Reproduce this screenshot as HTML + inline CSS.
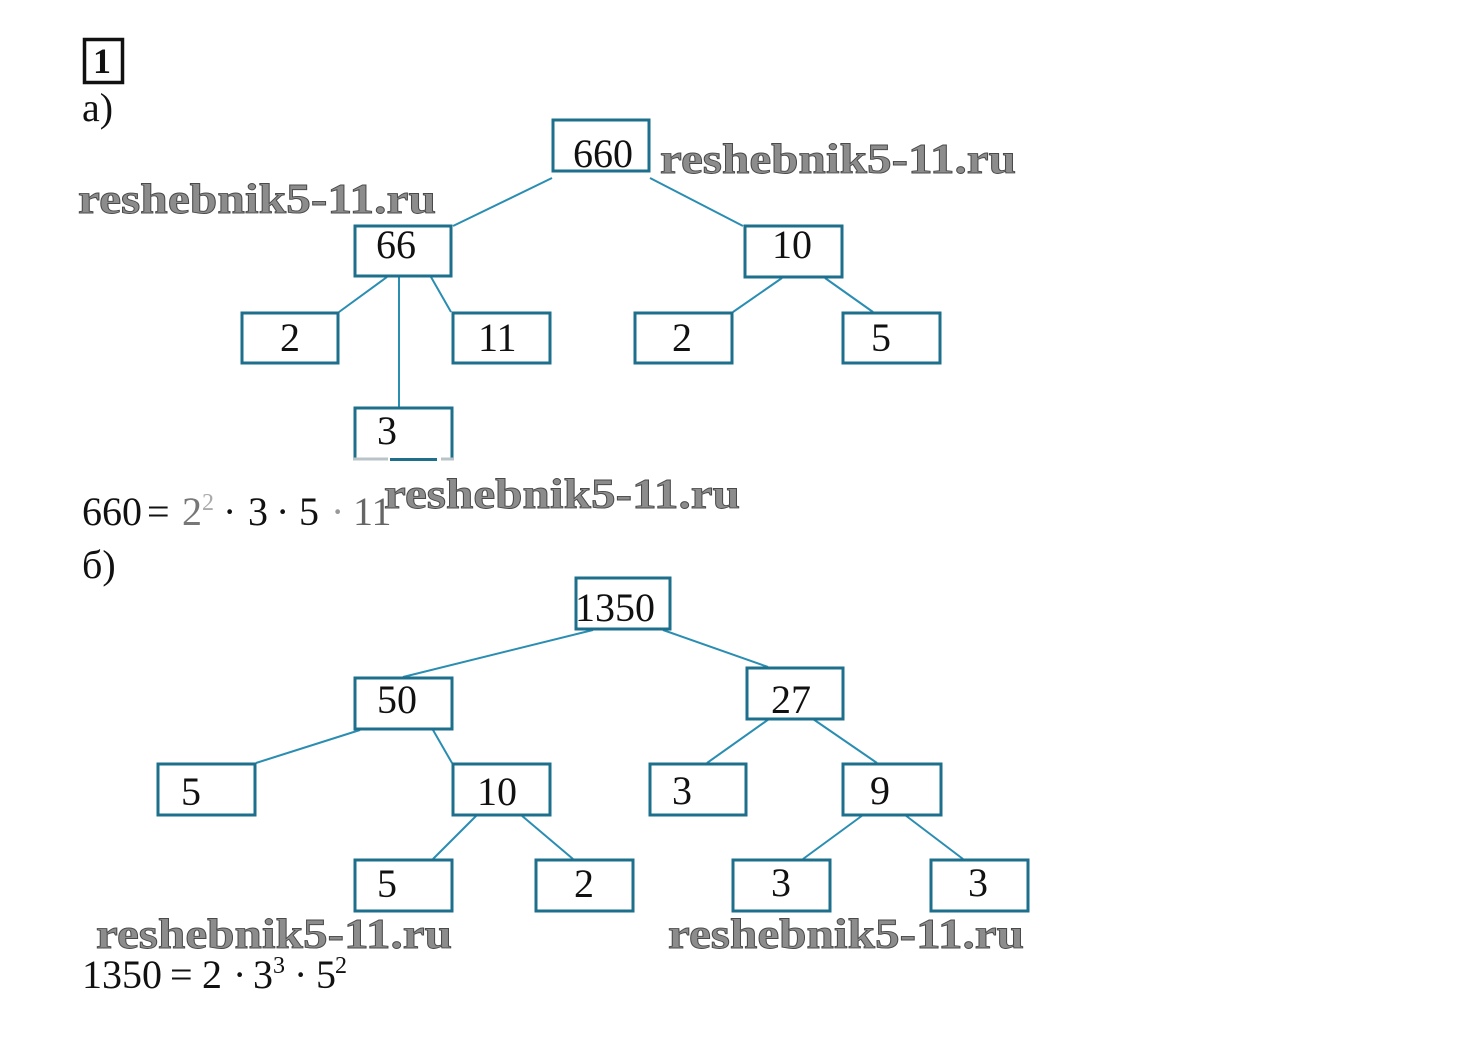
<!DOCTYPE html>
<html>
<head>
<meta charset="utf-8">
<style>
  html, body { margin:0; padding:0; background:#fff; }
  body { width:1460px; height:1053px; overflow:hidden; }
  svg { display:block; }
  .n { font-family:"Liberation Serif", "DejaVu Serif", serif; font-size:40px; fill:#111; }
  .box { fill:#fff; stroke:#1e6f8c; stroke-width:3; }
  .ln { stroke:#2a8db2; stroke-width:2; fill:none; }
  .wm { font-family:"Liberation Serif", "DejaVu Serif", serif; font-weight:bold; font-size:42px; fill:#8c8c8c; stroke:#4a4a4a; stroke-width:0.9; }
</style>
</head>
<body>
<svg width="1460" height="1053" viewBox="0 0 1460 1053" xmlns="http://www.w3.org/2000/svg">
  <!-- header -->
  <rect x="84.5" y="39.5" width="38" height="43" fill="#fff" stroke="#111" stroke-width="3.5"/>
  <text x="93" y="73" font-family="Liberation Serif, serif" font-weight="bold" font-size="36" fill="#111">1</text>
  <text class="n" x="82" y="121" font-size="42">а)</text>

  <!-- ===== Tree a ===== -->
  <!-- connectors -->
  <line class="ln" x1="552" y1="178" x2="453" y2="226"/>
  <line class="ln" x1="650" y1="178" x2="743" y2="226"/>
  <line class="ln" x1="387" y1="277" x2="339" y2="312"/>
  <line class="ln" x1="399" y1="277" x2="399" y2="407"/>
  <line class="ln" x1="431" y1="277" x2="451" y2="312" stroke-width="1.5"/>
  <line class="ln" x1="782" y1="278" x2="733" y2="312"/>
  <line class="ln" x1="825" y1="278" x2="873" y2="312"/>

  <!-- boxes -->
  <rect class="box" x="553" y="120" width="96" height="51"/>
  <rect class="box" x="355" y="226" width="96" height="50"/>
  <rect class="box" x="745" y="226" width="97" height="51"/>
  <rect class="box" x="242" y="313" width="96" height="50"/>
  <rect class="box" x="453" y="313" width="97" height="50"/>
  <rect class="box" x="635" y="313" width="97" height="50"/>
  <rect class="box" x="843" y="313" width="97" height="50"/>
  <!-- box 3 with broken bottom -->
  <path d="M355,458 L355,408 L452,408 L452,458" fill="none" stroke="#1e6f8c" stroke-width="3"/>
  <line x1="353" y1="459" x2="388" y2="459" stroke="#b9c3c8" stroke-width="3"/>
  <line x1="390" y1="459.5" x2="437" y2="459.5" stroke="#1e6f8c" stroke-width="3"/>
  <line x1="441" y1="459" x2="454" y2="459" stroke="#b9c3c8" stroke-width="3"/>

  <!-- numbers -->
  <text class="n" x="573" y="167">660</text>
  <text class="n" x="376" y="258">66</text>
  <text class="n" x="772" y="258">10</text>
  <text class="n" x="280" y="351">2</text>
  <text class="n" x="478" y="351">11</text>
  <text class="n" x="672" y="351">2</text>
  <text class="n" x="871" y="351">5</text>
  <text class="n" x="377" y="444">3</text>

  <!-- equation a -->
  <text class="n" y="525">
    <tspan x="82">660</tspan>
    <tspan x="147">=</tspan>
    <tspan x="182" fill="#777">2</tspan>
    <tspan x="202" y="510" font-size="24" fill="#aaa">2</tspan>
    <tspan x="223" y="525">·</tspan>
    <tspan x="248">3</tspan>
    <tspan x="276">·</tspan>
    <tspan x="299">5</tspan>
    <tspan x="331" fill="#999">·</tspan>
    <tspan x="353" fill="#666">11</tspan>
  </text>
  <text class="n" x="82" y="578" font-size="42">б)</text>

  <!-- ===== Tree b ===== -->
  <line class="ln" x1="593" y1="630" x2="403" y2="677"/>
  <line class="ln" x1="663" y1="630" x2="768" y2="667"/>
  <line class="ln" x1="360" y1="730" x2="256" y2="763"/>
  <line class="ln" x1="433" y1="730" x2="452" y2="763" stroke-width="1.5"/>
  <line class="ln" x1="769" y1="719" x2="707" y2="763"/>
  <line class="ln" x1="813" y1="719" x2="877" y2="763"/>
  <line class="ln" x1="477" y1="815" x2="433" y2="859"/>
  <line class="ln" x1="521" y1="815" x2="573" y2="859"/>
  <line class="ln" x1="863" y1="815" x2="803" y2="859"/>
  <line class="ln" x1="905" y1="815" x2="963" y2="859"/>

  <rect class="box" x="576" y="578" width="94" height="51"/>
  <rect class="box" x="355" y="678" width="97" height="51"/>
  <rect class="box" x="747" y="668" width="96" height="51"/>
  <rect class="box" x="158" y="764" width="97" height="51"/>
  <rect class="box" x="453" y="764" width="97" height="51"/>
  <rect class="box" x="650" y="764" width="96" height="51"/>
  <rect class="box" x="843" y="764" width="98" height="51"/>
  <rect class="box" x="355" y="860" width="97" height="51"/>
  <rect class="box" x="536" y="860" width="97" height="51"/>
  <rect class="box" x="733" y="860" width="97" height="51"/>
  <rect class="box" x="931" y="860" width="97" height="51"/>

  <text class="n" x="575" y="621">1350</text>
  <text class="n" x="377" y="713">50</text>
  <text class="n" x="771" y="713">27</text>
  <text class="n" x="181" y="805">5</text>
  <text class="n" x="477" y="805">10</text>
  <text class="n" x="672" y="804">3</text>
  <text class="n" x="870" y="804">9</text>
  <text class="n" x="377" y="897">5</text>
  <text class="n" x="574" y="897">2</text>
  <text class="n" x="771" y="896">3</text>
  <text class="n" x="968" y="896">3</text>

  <!-- equation b -->
  <text class="n" y="988">
    <tspan x="82">1350</tspan>
    <tspan x="170">=</tspan>
    <tspan x="202">2</tspan>
    <tspan x="233">·</tspan>
    <tspan x="253">3</tspan>
    <tspan x="273" y="973" font-size="24">3</tspan>
    <tspan x="294" y="988">·</tspan>
    <tspan x="316">5</tspan>
    <tspan x="335" y="973" font-size="24">2</tspan>
  </text>

  <!-- watermarks -->
  <text class="wm" x="78" y="213" textLength="358" lengthAdjust="spacingAndGlyphs">reshebnik5-11.ru</text>
  <text class="wm" x="660" y="173" textLength="356" lengthAdjust="spacingAndGlyphs">reshebnik5-11.ru</text>
  <text class="wm" x="384" y="508" textLength="356" lengthAdjust="spacingAndGlyphs">reshebnik5-11.ru</text>
  <text class="wm" x="96" y="948" textLength="356" lengthAdjust="spacingAndGlyphs">reshebnik5-11.ru</text>
  <text class="wm" x="668" y="948" textLength="356" lengthAdjust="spacingAndGlyphs">reshebnik5-11.ru</text>
</svg>
</body>
</html>
